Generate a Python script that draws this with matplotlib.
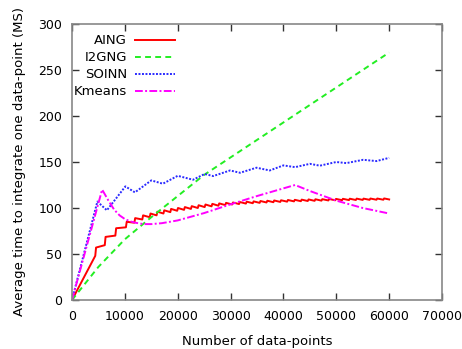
import matplotlib
matplotlib.use("Agg")
import matplotlib.pyplot as plt

# ---------------- data ----------------
# AING: staircase; at each step the value jumps from "low" to "high"
aing_steps = [4400, 6200, 8200, 10200, 11800, 13300, 14700, 16000, 17300, 18600,
              19900, 21200, 22500, 23800, 25100, 26400, 27700, 29000, 30300, 31600,
              32900, 34200, 35500, 36800, 38100, 39400, 40700, 42000, 43300, 44600,
              45900, 47200, 48500, 49800, 51100, 52400, 53700, 55000, 56300, 57600,
              58900]
aing_low = [48, 59.6, 70, 79, 84, 87.5, 90, 92, 94, 95.5,
            97, 98, 99, 100, 101, 101.8, 102.5, 103.2, 103.8, 104.3,
            104.8, 105.2, 105.6, 106, 106.3, 106.6, 106.9, 107.2, 107.4, 107.6,
            107.8, 108, 108.2, 108.4, 108.5, 108.6, 108.7, 108.8, 108.9, 109,
            109]
aing_high = [57, 68.6, 78, 85, 89, 92, 94, 96, 97.5, 99,
             100, 101, 102, 103, 103.8, 104.5, 105, 105.6, 106, 106.5,
             106.9, 107.2, 107.6, 107.9, 108.2, 108.4, 108.7, 108.9, 109.1, 109.3,
             109.5, 109.6, 109.8, 109.9, 110, 110.1, 110.2, 110.2, 110.3, 110.3,
             110.4]
aing_end_x = 60000
aing_end_y = 109.3

i2gng_x = [0, 5000, 10000, 15000, 20000, 25000, 30000, 35000, 40000, 45000, 50000, 55000, 60000]
i2gng_y = [0, 36, 66, 90, 113, 136, 155, 174, 193, 212, 231, 250, 269]

soinn_x = [0, 4800, 6600, 10100, 11900, 15000, 17200, 20000, 22900, 25100, 26700,
           29900, 31800, 34900, 37400, 40000, 42200, 45000, 46900, 50000, 51900,
           55100, 57600, 60000]
soinn_y = [0, 107, 97.5, 123.5, 117, 130, 126.4, 135, 130.7, 137, 134.7,
           140.8, 138.3, 143.8, 140.8, 146.3, 144.4, 148, 146, 150, 148.8,
           152.4, 151, 154.5]

kmeans_x = [0, 5700, 7000, 8000, 9000, 10000, 11000, 12000, 13500, 15000, 17000,
            20000, 25000, 30000, 35000, 42200, 45000, 50000, 55000, 60000]
kmeans_y = [0, 120, 107, 98, 92, 88, 85.5, 84, 82.5, 82.5, 83.5,
            86.5, 94.5, 104, 113, 125, 118.5, 108, 100, 94]

series_names = ["AING", "I2GNG", "SOINN", "Kmeans"]
x_ticks = [0, 10000, 20000, 30000, 40000, 50000, 60000, 70000]
y_ticks = [0, 50, 100, 150, 200, 250, 300]
x_label = "Number of data-points"
y_label = "Average time to integrate one data-point (MS)"

# ---------------- build AING polyline from the step readings ----------------
ax_pts = [0]
ay_pts = [0]
for s, lo, hi in zip(aing_steps, aing_low, aing_high):
    ax_pts += [s, s + 150]
    ay_pts += [lo, hi]
ax_pts.append(aing_end_x)
ay_pts.append(aing_end_y)

# ---------------- figure ----------------
plt.rcParams['font.family'] = ['DejaVu Sans']
fig = plt.figure(figsize=(4.62, 3.49), dpi=100)
ax = fig.add_axes([72 / 462, 49 / 349, 370 / 462, 276 / 349])

red = '#ff0000'
green = '#22ee22'
blue = '#2a2aff'
magenta = '#ff00ff'

styles = [
    dict(color=red, lw=1.4, ls='-'),
    dict(color=green, lw=1.4, ls=(0, (3, 2.2))),
    dict(color=blue, lw=1.4, ls=(0, (1, 0.8))),
    dict(color=magenta, lw=1.4, ls=(0, (4, 1.2, 1, 1.2))),
]

ax.plot(ax_pts, ay_pts, **styles[0])
ax.plot(i2gng_x, i2gng_y, **styles[1])
ax.plot(soinn_x, soinn_y, **styles[2])
ax.plot(kmeans_x, kmeans_y, **styles[3])

ax.set_xlim(0, 70000)
ax.set_ylim(0, 300)
ax.set_xticks(x_ticks)
ax.set_xticklabels([str(t) for t in x_ticks])
ax.set_yticks(y_ticks)
ax.set_yticklabels([str(t) for t in y_ticks])
ax.tick_params(direction='in', length=5, width=1, color='#333333',
               top=True, right=True, labelsize=9, pad=7)
for sp in ax.spines.values():
    sp.set_color('#888888')
    sp.set_linewidth(1.2)

ax.set_xlabel(x_label, fontsize=9.5, labelpad=8.5)
ax.set_ylabel(y_label, fontsize=9.5, labelpad=9)

# gnuplot-style key: right-aligned text, sample line to the right
for i, (name, st) in enumerate(zip(series_names, styles)):
    yk = 0.942 - i * 0.062
    ax.text(0.148, yk, name, transform=ax.transAxes, ha='right', va='center', fontsize=9.5)
    ax.plot([0.17, 0.278], [yk, yk], transform=ax.transAxes, **st)

fig.savefig("out.png", dpi=100)
